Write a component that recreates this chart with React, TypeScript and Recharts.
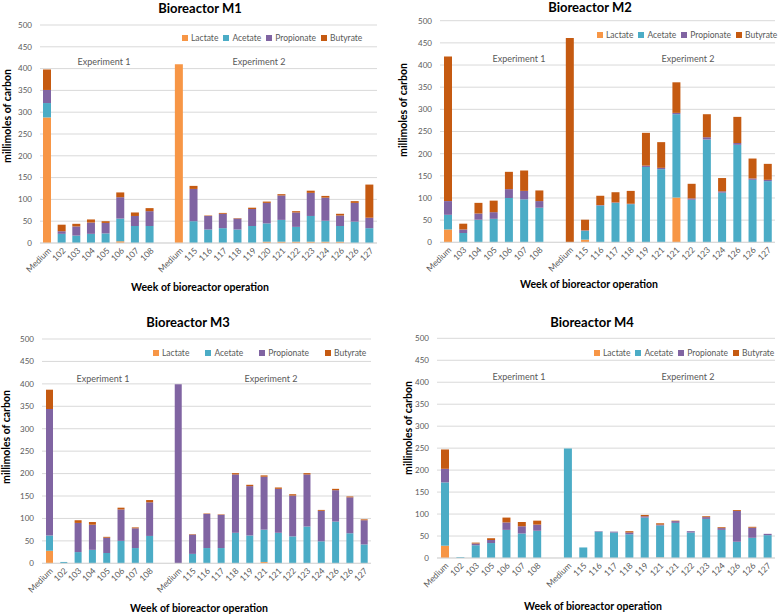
import React from 'react';
import { BarChart, Bar, XAxis, YAxis, CartesianGrid, Legend } from 'recharts';

// Series colours (Excel-style palette)
const COLORS = {
  lactate: '#F79646',
  acetate: '#4BACC6',
  propionate: '#8064A2',
  butyrate: '#C55A11',
};

const SERIES = [
  { key: 'lactate', name: 'Lactate' },
  { key: 'acetate', name: 'Acetate' },
  { key: 'propionate', name: 'Propionate' },
  { key: 'butyrate', name: 'Butyrate' },
] as const;

const yTicks = [0, 50, 100, 150, 200, 250, 300, 350, 400, 450, 500];

// Bioreactor M1
const m1Weeks = ['Medium', '102', '103', '104', '105', '106', '107', '108', '', 'Medium', '115', '116', '117', '118', '119', '120', '121', '122', '123', '124', '126', '126', '127'];
const m1Lactate = [288, 0, 0, 0, 0, 4, 0, 0, null, 410, 0, 0, 0, 0, 0, 3, 3, 3, 3, 3, 3, 0, 0];
const m1Acetate = [33, 21, 17, 21, 22, 52, 39, 39, null, 0, 50, 31, 34, 31, 39, 42, 50, 34, 59, 48, 36, 49, 34];
const m1Propionate = [30, 6, 21, 26, 24, 49, 23, 34, null, 0, 74, 31, 33, 25, 39, 47, 56, 33, 53, 53, 24, 43, 24];
const m1Butyrate = [47, 15, 6, 7, 4, 11, 8, 7, null, 0, 7, 1, 2, 1, 3, 3, 3, 3, 5, 4, 4, 4, 76];

// Bioreactor M2
const m2Weeks = ['Medium', '103', '104', '105', '106', '107', '108', '', 'Medium', '115', '116', '117', '118', '119', '121', '121', '122', '123', '124', '126', '126', '127'];
const m2Lactate = [29, 0, 0, 0, 0, 0, 0, null, 0, 6, 0, 0, 0, 0, 0, 101, 0, 0, 0, 0, 0, 0];
const m2Acetate = [33, 21, 51, 53, 100, 97, 78, null, 0, 20, 83, 89, 86, 170, 165, 188, 96, 232, 112, 220, 141, 138];
const m2Propionate = [31, 8, 14, 15, 20, 19, 15, null, 0, 1, 1, 1, 1, 3, 3, 3, 3, 5, 3, 4, 3, 3];
const m2Butyrate = [326, 13, 24, 26, 39, 46, 24, null, 461, 24, 21, 23, 29, 74, 58, 69, 33, 52, 30, 59, 45, 36];

// Bioreactor M3
const m3Weeks = ['Medium', '102', '103', '104', '105', '106', '107', '108', '', 'Medium', '115', '116', '117', '118', '119', '121', '121', '122', '123', '124', '126', '126', '127'];
const m3Lactate = [28, 0, 0, 0, 0, 0, 0, 0, null, 0, 0, 0, 0, 0, 0, 3, 0, 0, 0, 0, 0, 0, 0];
const m3Acetate = [34, 3, 25, 30, 23, 50, 34, 61, null, 0, 21, 34, 34, 68, 62, 72, 68, 60, 82, 49, 93, 67, 42];
const m3Propionate = [282, 0, 65, 56, 34, 70, 44, 75, null, 399, 43, 76, 74, 130, 110, 118, 98, 91, 116, 68, 70, 80, 54];
const m3Butyrate = [43, 0, 6, 6, 2, 4, 2, 5, null, 0, 1, 1, 1, 3, 3, 3, 3, 3, 3, 2, 3, 2, 2];

// Bioreactor M4
const m4Weeks = ['Medium', '102', '103', '105', '106', '107', '108', '', 'Medium', '115', '116', '117', '118', '119', '121', '121', '122', '123', '124', '126', '126', '127'];
const m4Lactate = [28, 0, 0, 0, 0, 0, 0, null, 0, 0, 0, 0, 0, 0, 1, 0, 0, 0, 0, 0, 0, 0];
const m4Acetate = [144, 2, 29, 34, 64, 56, 62, null, 249, 24, 60, 58, 54, 92, 73, 80, 58, 89, 64, 37, 46, 52];
const m4Propionate = [31, 0, 4, 7, 17, 16, 14, null, 0, 0, 1, 2, 4, 3, 2, 4, 3, 4, 4, 70, 23, 3];
const m4Butyrate = [44, 0, 2, 4, 11, 10, 9, null, 0, 0, 0, 0, 3, 3, 3, 1, 0, 2, 2, 2, 2, 0];

type Num = number | null;

const buildRows = (weeks: string[], lac: Num[], ac: Num[], pr: Num[], bu: Num[]) =>
  weeks.map((week, i) => ({ id: i, week, lactate: lac[i], acetate: ac[i], propionate: pr[i], butyrate: bu[i] }));

const TEXT = '#595959';
const FONT = 'Lato, "Liberation Sans", sans-serif';

// absolutely placed text, centred on (x, y)
const Txt: React.FC<{ x: number; y: number; size: number; bold?: boolean; rotate?: boolean; color?: string; children: React.ReactNode }> = ({ x, y, size, bold, rotate, color, children }) => (
  <div
    style={{
      position: 'absolute',
      left: x,
      top: y,
      transform: `translate(-50%, -50%)${rotate ? ' rotate(-90deg)' : ''}`,
      whiteSpace: 'nowrap',
      fontSize: size,
      fontWeight: bold ? 700 : 400,
      color: color || TEXT,
      lineHeight: 1.2,
    }}
  >
    {children}
  </div>
);

interface PanelProps {
  title: string;
  weeks: string[];
  rows: ReturnType<typeof buildRows>;
  box: { x: number; y: number; w: number; h: number };
  plot: { left: number; right: number; top: number; bottom: number };
  legend: { x: number; y: number; gap: number };
  barSize: number;
  titlePos: [number, number];
  yLabelPos: [number, number];
  xLabelPos: [number, number];
  exp1: [number, number];
  exp2: [number, number];
}

const Y_W = 30;
const X_H = 40;

const Panel: React.FC<PanelProps> = ({ title, weeks, rows, box, plot, legend, barSize, titlePos, yLabelPos, xLabelPos, exp1, exp2 }) => {
  const margin = {
    top: plot.top - box.y,
    left: plot.left - box.x - Y_W,
    right: box.x + box.w - plot.right,
    bottom: box.y + box.h - plot.bottom - X_H,
  };

  const renderLegend = () => (
    <div style={{ display: 'flex', alignItems: 'center', gap: legend.gap, fontSize: 8.5, color: TEXT, fontFamily: FONT }}>
      {SERIES.map((s) => (
        <span key={s.key} style={{ display: 'flex', alignItems: 'center' }}>
          <span style={{ width: 6, height: 6, background: COLORS[s.key], marginRight: 3, display: 'inline-block' }} />
          {s.name}
        </span>
      ))}
    </div>
  );

  return (
    <>
      <div style={{ position: 'absolute', left: box.x, top: box.y }}>
        <BarChart width={box.w} height={box.h} data={rows} margin={margin} barSize={barSize}>
          <CartesianGrid vertical={false} stroke="#d9d9d9" />
          <XAxis
            dataKey="id"
            type="category"
            interval={0}
            height={X_H}
            tickFormatter={(v: number) => weeks[v]}
            angle={-45}
            textAnchor="end"
            tickLine={false}
            axisLine={{ stroke: '#d9d9d9' }}
            tick={{ fontSize: 8.5, fill: TEXT }}
            tickMargin={0}
            tickSize={4}
          />
          <YAxis
            width={Y_W}
            domain={[0, 500]}
            ticks={yTicks}
            interval={0}
            axisLine={false}
            tickLine={false}
            tick={{ fontSize: 8, fill: TEXT }}
          />
          <Legend
            layout="horizontal"
            align="center"
            verticalAlign="middle"
            content={renderLegend}
            wrapperStyle={{ left: legend.x - box.x, top: legend.y - box.y - 5, width: 'auto' }}
          />
          {SERIES.map((s) => (
            <Bar key={s.key} dataKey={s.key} name={s.name} stackId="a" fill={COLORS[s.key]} isAnimationActive={false} />
          ))}
        </BarChart>
      </div>
      <Txt x={titlePos[0]} y={titlePos[1]} size={13} bold color="#000">{title}</Txt>
      <Txt x={yLabelPos[0]} y={yLabelPos[1]} size={10.5} bold rotate color="#000">millimoles of carbon</Txt>
      <Txt x={xLabelPos[0]} y={xLabelPos[1]} size={10.5} bold color="#000">Week of bioreactor operation</Txt>
      <Txt x={exp1[0]} y={exp1[1]} size={9}>Experiment 1</Txt>
      <Txt x={exp2[0]} y={exp2[1]} size={9}>Experiment 2</Txt>
    </>
  );
};

export default function App() {
  return (
    <div style={{ position: 'absolute', left: 0, top: 0, width: 783, height: 615, background: '#fff', fontFamily: FONT, overflow: 'hidden' }}>
      <Panel
        title="Bioreactor M1"
        weeks={m1Weeks}
        rows={buildRows(m1Weeks, m1Lactate, m1Acetate, m1Propionate, m1Butyrate)}
        box={{ x: 0, y: 0, w: 395, h: 300 }}
        plot={{ left: 40, right: 377, top: 25, bottom: 243 }}
        legend={{ x: 182, y: 38, gap: 5 }}
        barSize={8}
        titlePos={[200, 9]}
        yLabelPos={[7, 116]}
        xLabelPos={[200, 287]}
        exp1={[104, 62]}
        exp2={[259, 62]}
      />
      <Panel
        title="Bioreactor M2"
        weeks={m2Weeks}
        rows={buildRows(m2Weeks, m2Lactate, m2Acetate, m2Propionate, m2Butyrate)}
        box={{ x: 395, y: 0, w: 388, h: 300 }}
        plot={{ left: 440, right: 775, top: 20.7, bottom: 242.3 }}
        legend={{ x: 597, y: 34.5, gap: 5 }}
        barSize={8}
        titlePos={[590, 8]}
        yLabelPos={[403, 110]}
        xLabelPos={[589, 284]}
        exp1={[519, 59]}
        exp2={[688, 59]}
      />
      <Panel
        title="Bioreactor M3"
        weeks={m3Weeks}
        rows={buildRows(m3Weeks, m3Lactate, m3Acetate, m3Propionate, m3Butyrate)}
        box={{ x: 0, y: 300, w: 395, h: 315 }}
        plot={{ left: 42, right: 371, top: 339, bottom: 563.3 }}
        legend={{ x: 153, y: 353, gap: 16 }}
        barSize={7}
        titlePos={[188, 323]}
        yLabelPos={[6, 437]}
        xLabelPos={[199, 608]}
        exp1={[103, 379]}
        exp2={[271, 379]}
      />
      <Panel
        title="Bioreactor M4"
        weeks={m4Weeks}
        rows={buildRows(m4Weeks, m4Lactate, m4Acetate, m4Propionate, m4Butyrate)}
        box={{ x: 395, y: 300, w: 388, h: 315 }}
        plot={{ left: 437, right: 775, top: 338.3, bottom: 558 }}
        legend={{ x: 594, y: 353, gap: 5 }}
        barSize={8}
        titlePos={[592, 323]}
        yLabelPos={[408, 428]}
        xLabelPos={[593, 606]}
        exp1={[519, 377]}
        exp2={[688, 377]}
      />
    </div>
  );
}
